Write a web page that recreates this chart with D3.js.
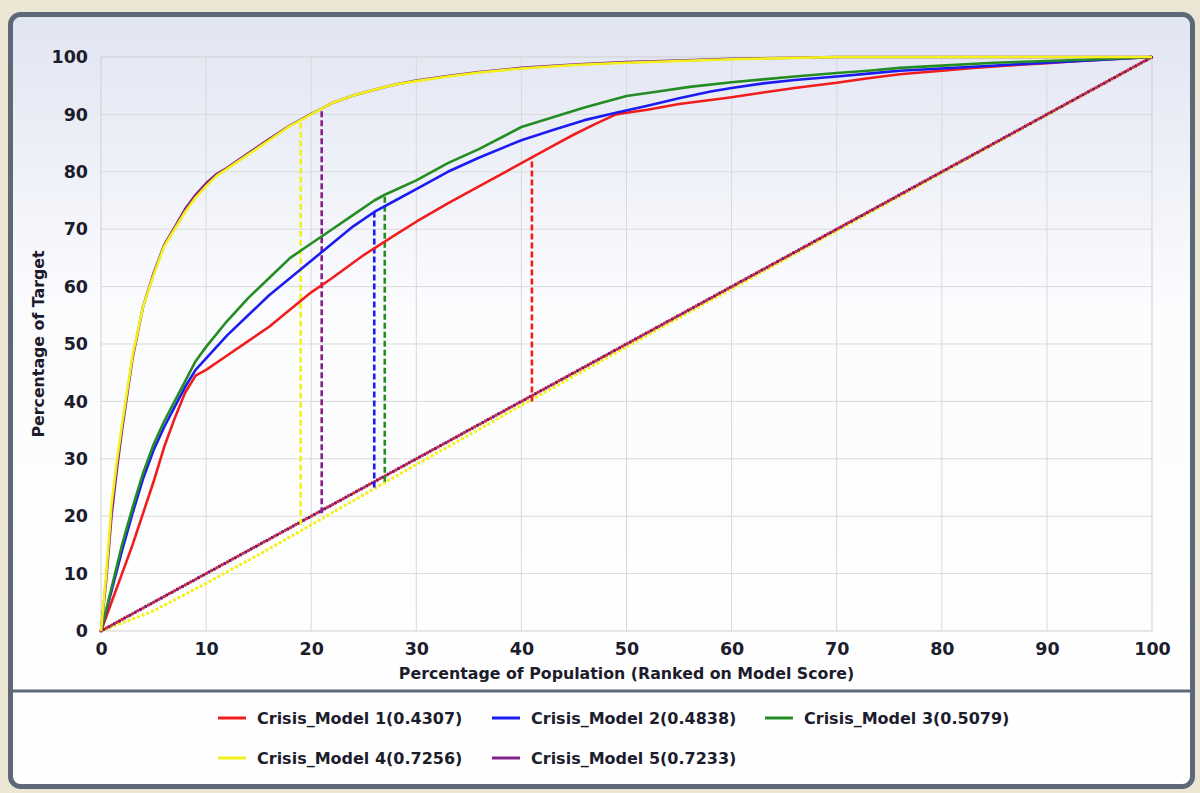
<!DOCTYPE html>
<html>
<head>
<meta charset="utf-8">
<script src="https://cdn.jsdelivr.net/npm/d3@7"></script>
<style>
  body { margin: 0; background: #ece6d5; }
  svg { display: block; }
  .tick text { font-family: "DejaVu Sans", sans-serif; font-weight: bold; font-size: 17.5px; fill: #1c1c2c; }
</style>
</head>
<body>
<svg id="chart" width="1200" height="793"></svg>
<script>
// model names and lift values (legend)
var models = ["Crisis_Model 1(0.4307)", "Crisis_Model 2(0.4838)", "Crisis_Model 3(0.5079)",
              "Crisis_Model 4(0.7256)", "Crisis_Model 5(0.7233)"];
var colors = ["#f21c1c", "#1c1cf2", "#238c23", "#f2f21a", "#84208a"];

// cumulative gains curves: [x, y]
var model1 = [[0,0],[1,5],[2,10],[3,15],[4,20.5],[5,26],[6,32],[7,37],[8,41.5],[9,44.5],[10,45.5],
  [12,48],[14,50.5],[16,53],[18,56],[20,59],[22,61.5],[25,65.5],[28,69],[30,71.3],[33,74.5],
  [36,77.5],[39,80.5],[41,82.5],[43,84.5],[45,86.5],[47,88.3],[49,90],[50,90.3],[52,90.8],
  [55,91.8],[58,92.5],[60,93],[63,93.8],[66,94.6],[70,95.5],[73,96.3],[76,97],[80,97.6],
  [83,98.1],[86,98.5],[90,98.9],[93,99.3],[96,99.6],[100,100]];
var model2 = [[0,0],[1,7],[2,14],[3,20.5],[4,26.5],[5,31.5],[6,35.5],[7,39],[8,42.5],[9,45.5],
  [10,47.5],[12,51.5],[14,55],[16,58.5],[18,61.5],[20,64.5],[22,67.5],[24,70.5],[26,73],[28,75],
  [30,77],[33,80],[36,82.5],[40,85.5],[43,87.3],[46,89],[49,90.3],[52,91.5],[55,92.8],[58,94],
  [60,94.6],[63,95.4],[66,96],[70,96.6],[73,97.1],[76,97.6],[80,98],[83,98.3],[86,98.6],
  [90,99],[95,99.5],[100,100]];
var model3 = [[0,0],[1,7.5],[2,15],[3,21.5],[4,27.5],[5,32.5],[6,36.5],[7,40],[8,43.5],[9,47],
  [10,49.5],[12,54],[14,58],[16,61.5],[18,65],[20,67.5],[22,70],[24,72.5],[26,75],[27,76],
  [30,78.5],[33,81.5],[36,84],[40,87.8],[43,89.5],[46,91.2],[50,93.2],[53,94],[56,94.8],
  [60,95.6],[63,96.1],[66,96.6],[70,97.2],[73,97.6],[76,98.1],[80,98.5],[85,99],[90,99.3],
  [95,99.6],[100,100]];
var model4 = [[0,0],[0.5,10],[1,22],[1.5,29.5],[2,36],[3,48],[4,56.5],[5,62],[6,67],[7,70],
  [8,73],[9,75.5],[10,77.5],[11,79.3],[12,80.5],[14,83],[16,85.5],[18,88],[19,89],[20,90],
  [21,91],[22,92],[24,93.3],[26,94.3],[28,95.2],[30,95.8],[33,96.6],[36,97.3],[40,98],
  [45,98.6],[50,99],[55,99.3],[60,99.6],[65,99.8],[70,100],[100,100]];
var model5 = [[0,0],[0.5,9],[1,20],[1.5,28],[2,35],[3,47.5],[4,56.5],[5,62.3],[6,67.2],[7,70.3],
  [8,73.5],[9,76],[10,78],[11,79.6],[12,80.7],[14,83.2],[16,85.7],[18,88.1],[20,90.1],
  [21,91],[22,92],[24,93.3],[26,94.3],[28,95.2],[30,95.9],[33,96.7],[36,97.4],[40,98.1],
  [45,98.7],[50,99.1],[55,99.4],[60,99.7],[70,100],[100,100]];

// random-model baselines (dotted)
var baseline = [[0,0],[100,100]];
var baseline4 = [[0,0],[5,3.5],[10,8.3],[15,13.3],[20,18.5],[30,29],[40,39.3],[50,49.5],[100,100]];

// max-separation markers (dashed): x, top y, bottom y
var ksX = [41, 26, 27, 19, 21];
var ksTop = [82.5, 73, 76, 89, 91];
var ksBottom = [40, 25, 26, 18.5, 20.5];

var xTicks = [0,10,20,30,40,50,60,70,80,90,100];
var yTicks = [0,10,20,30,40,50,60,70,80,90,100];

var curves = [model1, model2, model3, model4, model5];

var svg = d3.select("#chart");
var margin = {top: 57, left: 101, right: 48, bottom: 162};
var width = 1200 - margin.left - margin.right;
var height = 793 - margin.top - margin.bottom;
var font = "DejaVu Sans, sans-serif";

var defs = svg.append("defs");
var grad = defs.append("linearGradient").attr("id", "panel").attr("x1", 0).attr("y1", 0).attr("x2", 0).attr("y2", 1);
grad.append("stop").attr("offset", "0%").attr("stop-color", "#e1e5f2");
grad.append("stop").attr("offset", "38%").attr("stop-color", "#fbfcfe");
grad.append("stop").attr("offset", "100%").attr("stop-color", "#ffffff");

// frame
svg.append("rect")
  .attr("x", 10.5).attr("y", 14.5).attr("width", 1182).attr("height", 772)
  .attr("rx", 10).attr("fill", "url(#panel)")
  .attr("stroke", "#5d6976").attr("stroke-width", 5);
svg.append("line")
  .attr("x1", 12).attr("x2", 1191).attr("y1", 691).attr("y2", 691)
  .attr("stroke", "#5d6976").attr("stroke-width", 3);

var g = svg.append("g").attr("transform", "translate(" + margin.left + "," + margin.top + ")");

var x = d3.scaleLinear().domain([0, 100]).range([0, width]);
var y = d3.scaleLinear().domain([0, 100]).range([height, 0]);

// grid
g.append("g").selectAll("line").data(xTicks.slice(1, -1)).enter().append("line")
  .attr("x1", d => x(d)).attr("x2", d => x(d)).attr("y1", 0).attr("y2", height)
  .attr("stroke", "#d9d9d9").attr("stroke-width", 1);
g.append("g").selectAll("line").data(yTicks.slice(1, -1)).enter().append("line")
  .attr("x1", 0).attr("x2", width).attr("y1", d => y(d)).attr("y2", d => y(d))
  .attr("stroke", "#d9d9d9").attr("stroke-width", 1);
g.append("rect").attr("width", width).attr("height", height)
  .attr("fill", "none").attr("stroke", "#cfcfcf");

// axes
g.append("g")
  .attr("transform", "translate(0," + height + ")")
  .call(d3.axisBottom(x).tickValues(xTicks).tickSize(0).tickPadding(12))
  .call(a => a.select(".domain").remove());
g.append("g")
  .call(d3.axisLeft(y).tickValues(yTicks).tickSize(0).tickPadding(13))
  .call(a => a.select(".domain").remove());

g.append("text")
  .attr("x", width / 2).attr("y", height + 48)
  .attr("text-anchor", "middle")
  .style("font-family", font).style("font-weight", "bold").style("font-size", "15.8px")
  .attr("fill", "#1c1c2c")
  .text("Percentage of Population (Ranked on Model Score)");
g.append("text")
  .attr("transform", "translate(-57," + (height / 2) + ") rotate(-90)")
  .attr("text-anchor", "middle")
  .style("font-family", font).style("font-weight", "bold").style("font-size", "15.8px")
  .attr("fill", "#1c1c2c")
  .text("Percentage of Target");

var line = d3.line().x(d => x(d[0])).y(d => y(d[1]));

// baselines: dotted
g.append("path").datum(baseline4).attr("d", line).attr("fill", "none")
  .attr("stroke", colors[3]).attr("stroke-width", 3.5).attr("stroke-linecap", "round")
  .attr("stroke-dasharray", "0,5");
g.append("path").datum(baseline).attr("d", line).attr("fill", "none")
  .attr("stroke", "#d8283a").attr("stroke-width", 3.5).attr("stroke-linecap", "round")
  .attr("stroke-dasharray", "0,6");
g.append("path").datum(baseline).attr("d", line).attr("fill", "none")
  .attr("stroke", "#7a1c6e").attr("stroke-width", 3.5).attr("stroke-linecap", "round")
  .attr("stroke-dasharray", "0,6").attr("stroke-dashoffset", 3);

// dashed markers
ksX.forEach(function(v, i) {
  g.append("line")
    .attr("x1", x(v)).attr("x2", x(v))
    .attr("y1", y(ksBottom[i])).attr("y2", y(ksTop[i]))
    .attr("stroke", colors[i]).attr("stroke-width", 2.6).attr("stroke-dasharray", "6,3");
});

// curves (purple under yellow)
var order = [0, 1, 2, 4, 3];
order.forEach(function(i) {
  g.append("path").datum(curves[i]).attr("d", line)
    .attr("fill", "none").attr("stroke", colors[i]).attr("stroke-width", 2.6)
    .attr("stroke-linejoin", "round");
});

// legend
var legend = svg.append("g");
var colX = [218, 492, 765];
var rowY = [718, 758];
models.forEach(function(m, i) {
  var cx = colX[i % 3], cy = rowY[Math.floor(i / 3)];
  legend.append("line").attr("x1", cx).attr("x2", cx + 28).attr("y1", cy).attr("y2", cy)
    .attr("stroke", colors[i]).attr("stroke-width", 3);
  legend.append("text").attr("x", cx + 39).attr("y", cy + 6)
    .style("font-family", font).style("font-weight", "bold").style("font-size", "16px")
    .attr("fill", "#1c1c2c")
    .text(m);
});
</script>
</body>
</html>
